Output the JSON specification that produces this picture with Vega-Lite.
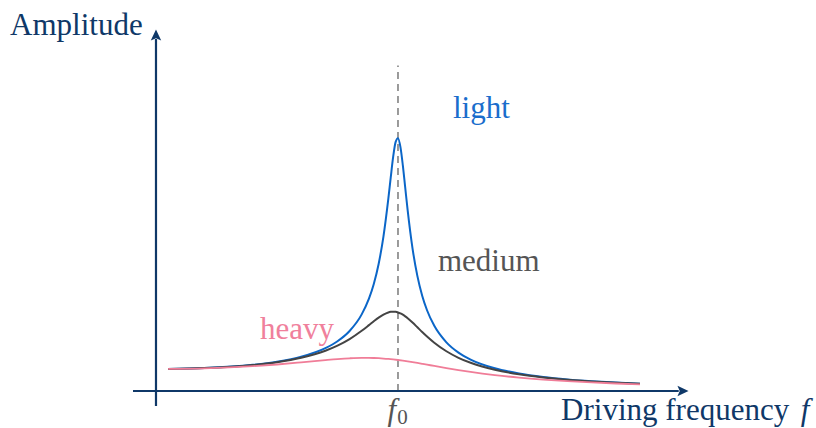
{
  "$schema": "https://vega.github.io/schema/vega-lite/v6.json",
  "width": 816,
  "height": 428,
  "padding": 0,
  "autosize": {"type": "none"},
  "config": {"view": {"stroke": null}},
  "datasets": {
    "curves": [
      {"damping": "light", "f": 0.05, "A": 1.0025},
      {"damping": "light", "f": 0.2, "A": 1.0415},
      {"damping": "light", "f": 0.4, "A": 1.1895},
      {"damping": "light", "f": 0.5, "A": 1.3311},
      {"damping": "light", "f": 0.6, "A": 1.5573},
      {"damping": "light", "f": 0.7, "A": 1.9469},
      {"damping": "light", "f": 0.75, "A": 2.2607},
      {"damping": "light", "f": 0.8, "A": 2.7273},
      {"damping": "light", "f": 0.85, "A": 3.4821},
      {"damping": "light", "f": 0.88, "A": 4.1975},
      {"damping": "light", "f": 0.9, "A": 4.8661},
      {"damping": "light", "f": 0.92, "A": 5.7736},
      {"damping": "light", "f": 0.94, "A": 7.0295},
      {"damping": "light", "f": 0.96, "A": 8.7297},
      {"damping": "light", "f": 0.97, "A": 9.7059},
      {"damping": "light", "f": 0.98, "A": 10.638},
      {"damping": "light", "f": 0.99, "A": 11.313},
      {"damping": "light", "f": 1.0, "A": 11.494},
      {"damping": "light", "f": 1.01, "A": 11.094},
      {"damping": "light", "f": 1.02, "A": 10.256},
      {"damping": "light", "f": 1.03, "A": 9.2295},
      {"damping": "light", "f": 1.04, "A": 8.2073},
      {"damping": "light", "f": 1.06, "A": 6.4844},
      {"damping": "light", "f": 1.08, "A": 5.233},
      {"damping": "light", "f": 1.1, "A": 4.3332},
      {"damping": "light", "f": 1.12, "A": 3.6708},
      {"damping": "light", "f": 1.15, "A": 2.9615},
      {"damping": "light", "f": 1.2, "A": 2.2113},
      {"damping": "light", "f": 1.25, "A": 1.7454},
      {"damping": "light", "f": 1.3, "A": 1.4302},
      {"damping": "light", "f": 1.4, "A": 1.0334},
      {"damping": "light", "f": 1.5, "A": 0.79567},
      {"damping": "light", "f": 1.6, "A": 0.63849},
      {"damping": "light", "f": 1.7, "A": 0.52749},
      {"damping": "light", "f": 1.8, "A": 0.44534},
      {"damping": "light", "f": 1.9, "A": 0.38238},
      {"damping": "light", "f": 2.0, "A": 0.33277},

      {"damping": "medium", "f": 0.05, "A": 1.0024},
      {"damping": "medium", "f": 0.2, "A": 1.0399},
      {"damping": "medium", "f": 0.4, "A": 1.18},
      {"damping": "medium", "f": 0.5, "A": 1.3107},
      {"damping": "medium", "f": 0.6, "A": 1.5113},
      {"damping": "medium", "f": 0.7, "A": 1.8303},
      {"damping": "medium", "f": 0.75, "A": 2.0606},
      {"damping": "medium", "f": 0.8, "A": 2.3585},
      {"damping": "medium", "f": 0.85, "A": 2.7354},
      {"damping": "medium", "f": 0.88, "A": 2.9933},
      {"damping": "medium", "f": 0.9, "A": 3.1686},
      {"damping": "medium", "f": 0.92, "A": 3.3342},
      {"damping": "medium", "f": 0.94, "A": 3.4748},
      {"damping": "medium", "f": 0.96, "A": 3.5715},
      {"damping": "medium", "f": 0.97, "A": 3.5977},
      {"damping": "medium", "f": 0.98, "A": 3.607},
      {"damping": "medium", "f": 0.99, "A": 3.5983},
      {"damping": "medium", "f": 1.0, "A": 3.5714},
      {"damping": "medium", "f": 1.01, "A": 3.5272},
      {"damping": "medium", "f": 1.02, "A": 3.4669},
      {"damping": "medium", "f": 1.03, "A": 3.3926},
      {"damping": "medium", "f": 1.04, "A": 3.3067},
      {"damping": "medium", "f": 1.06, "A": 3.1103},
      {"damping": "medium", "f": 1.08, "A": 2.8972},
      {"damping": "medium", "f": 1.1, "A": 2.6825},
      {"damping": "medium", "f": 1.12, "A": 2.4764},
      {"damping": "medium", "f": 1.15, "A": 2.1943},
      {"damping": "medium", "f": 1.2, "A": 1.8063},
      {"damping": "medium", "f": 1.25, "A": 1.5094},
      {"damping": "medium", "f": 1.3, "A": 1.2819},
      {"damping": "medium", "f": 1.4, "A": 0.96437},
      {"damping": "medium", "f": 1.5, "A": 0.75834},
      {"damping": "medium", "f": 1.6, "A": 0.61612},
      {"damping": "medium", "f": 1.7, "A": 0.51308},
      {"damping": "medium", "f": 1.8, "A": 0.43554},
      {"damping": "medium", "f": 1.9, "A": 0.37542},
      {"damping": "medium", "f": 2.0, "A": 0.32768},

      {"damping": "heavy", "f": 0.05, "A": 1.0019},
      {"damping": "heavy", "f": 0.2, "A": 1.0304},
      {"damping": "heavy", "f": 0.4, "A": 1.1278},
      {"damping": "heavy", "f": 0.5, "A": 1.2052},
      {"damping": "heavy", "f": 0.6, "A": 1.3007},
      {"damping": "heavy", "f": 0.7, "A": 1.4043},
      {"damping": "heavy", "f": 0.75, "A": 1.451},
      {"damping": "heavy", "f": 0.8, "A": 1.487},
      {"damping": "heavy", "f": 0.85, "A": 1.5055},
      {"damping": "heavy", "f": 0.88, "A": 1.5054},
      {"damping": "heavy", "f": 0.9, "A": 1.5},
      {"damping": "heavy", "f": 0.92, "A": 1.4903},
      {"damping": "heavy", "f": 0.94, "A": 1.476},
      {"damping": "heavy", "f": 0.96, "A": 1.4575},
      {"damping": "heavy", "f": 0.98, "A": 1.4349},
      {"damping": "heavy", "f": 1.0, "A": 1.4085},
      {"damping": "heavy", "f": 1.02, "A": 1.3787},
      {"damping": "heavy", "f": 1.04, "A": 1.3461},
      {"damping": "heavy", "f": 1.06, "A": 1.3112},
      {"damping": "heavy", "f": 1.08, "A": 1.2745},
      {"damping": "heavy", "f": 1.1, "A": 1.2365},
      {"damping": "heavy", "f": 1.12, "A": 1.1977},
      {"damping": "heavy", "f": 1.15, "A": 1.1391},
      {"damping": "heavy", "f": 1.2, "A": 1.0429},
      {"damping": "heavy", "f": 1.25, "A": 0.9517},
      {"damping": "heavy", "f": 1.3, "A": 0.86775},
      {"damping": "heavy", "f": 1.4, "A": 0.72364},
      {"damping": "heavy", "f": 1.5, "A": 0.60895},
      {"damping": "heavy", "f": 1.6, "A": 0.51819},
      {"damping": "heavy", "f": 1.7, "A": 0.44592},
      {"damping": "heavy", "f": 1.8, "A": 0.38776},
      {"damping": "heavy", "f": 1.9, "A": 0.34037},
      {"damping": "heavy", "f": 2.0, "A": 0.30129}
    ],
    "axes": [
      {"name": "x", "f": -0.095, "f2": 2.16, "A": 0, "A2": 0},
      {"name": "y", "f": 0, "f2": 0, "A": -0.68, "A2": 16.0}
    ],
    "heads": [
      {"name": "x", "f": 2.1736, "A": 0, "angle": 90},
      {"name": "y", "f": 0, "A": 16.14, "angle": 0}
    ],
    "resonance": [
      {"f": 1, "A": 0, "A2": 14.8}
    ],
    "labels": [
      {"text": "light", "f": 1.227, "A": 12.41, "color": "#1a6dcc"},
      {"text": "medium", "f": 1.165, "A": 5.45, "color": "#555555"},
      {"text": "heavy", "f": 0.43, "A": 2.36, "color": "#f0809c"}
    ],
    "titles": [
      {"text": "Amplitude", "f": -0.603, "A": 16.18},
      {"text": "Driving frequency", "f": 1.674, "A": -1.33}
    ]
  },
  "encoding": {
    "x": {"field": "f", "type": "quantitative", "axis": null,
          "scale": {"domain": [-0.6446, 2.7273], "nice": false, "zero": false}},
    "y": {"field": "A", "type": "quantitative", "axis": null,
          "scale": {"domain": [-1.682, 17.773], "nice": false, "zero": false}}
  },
  "layer": [
    {
      "data": {"name": "labels"},
      "mark": {"type": "text", "align": "left", "baseline": "alphabetic", "font": "Liberation Serif", "fontSize": 31},
      "encoding": {"text": {"field": "text"}, "color": {"field": "color", "type": "nominal", "scale": null}}
    },
    {
      "data": {"name": "titles"},
      "mark": {"type": "text", "align": "left", "baseline": "alphabetic", "font": "Liberation Serif", "fontSize": 31, "color": "#0f3868"},
      "encoding": {"text": {"field": "text"}}
    },
    {
      "data": {"values": [{"text": "f", "f": 2.7, "A": -1.33}]},
      "mark": {"type": "text", "align": "right", "baseline": "alphabetic", "font": "Liberation Serif",
               "fontStyle": "italic", "fontSize": 31, "color": "#0f3868"},
      "encoding": {"text": {"field": "text"}}
    },
    {
      "data": {"values": [{"text": "f", "f": 0.957, "A": -1.3}]},
      "mark": {"type": "text", "align": "left", "baseline": "alphabetic", "font": "Liberation Serif",
               "fontStyle": "italic", "fontSize": 31, "color": "#555555"},
      "encoding": {"text": {"field": "text"}}
    },
    {
      "data": {"values": [{"text": "0", "f": 0.997, "A": -1.48}]},
      "mark": {"type": "text", "align": "left", "baseline": "alphabetic", "font": "Liberation Serif", "fontSize": 21, "color": "#555555"},
      "encoding": {"text": {"field": "text"}}
    },
    {
      "data": {"name": "resonance"},
      "mark": {"type": "rule", "color": "#4a4a4a", "strokeWidth": 1.1, "strokeDash": [7, 5]},
      "encoding": {"y2": {"field": "A2"}}
    },
    {
      "data": {"name": "axes"},
      "mark": {"type": "rule", "color": "#0f3868", "strokeWidth": 2.2},
      "encoding": {"x2": {"field": "f2"}, "y2": {"field": "A2"}}
    },
    {
      "data": {"name": "heads"},
      "mark": {"type": "point", "filled": true, "opacity": 1, "color": "#0f3868",
               "shape": "M0,-1 L0.8,0.7 L0,0.35 L-0.8,0.7 Z", "size": 170},
      "encoding": {"angle": {"field": "angle", "type": "quantitative", "scale": null}}
    },
    {
      "data": {"name": "curves"},
      "transform": [{"filter": "datum.damping === 'light'"}],
      "mark": {"type": "line", "interpolate": "monotone", "color": "#0b66c8", "strokeWidth": 2}
    },
    {
      "data": {"name": "curves"},
      "transform": [{"filter": "datum.damping === 'medium'"}],
      "mark": {"type": "line", "interpolate": "monotone", "color": "#444444", "strokeWidth": 2}
    },
    {
      "data": {"name": "curves"},
      "transform": [{"filter": "datum.damping === 'heavy'"}],
      "mark": {"type": "line", "interpolate": "monotone", "color": "#f07d98", "strokeWidth": 1.8}
    }
  ]
}
